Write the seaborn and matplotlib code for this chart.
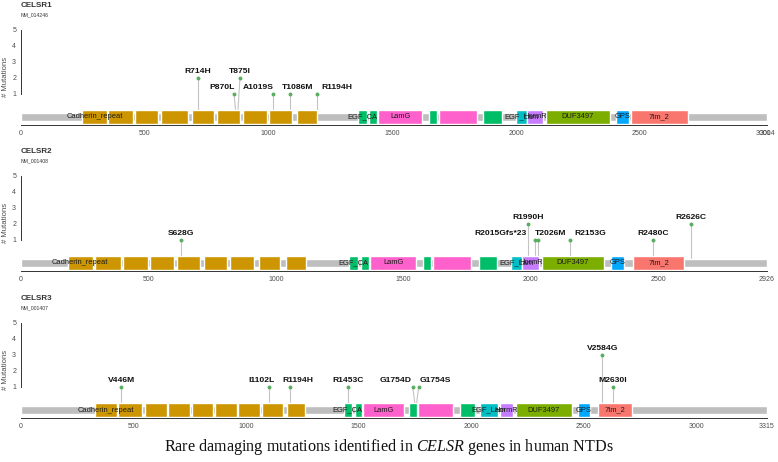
import matplotlib
matplotlib.use("Agg")
import matplotlib.pyplot as plt
import seaborn as sns
import numpy as np

# genes / transcripts / protein lengths
genes = ["CELSR1", "CELSR2", "CELSR3"]
refseq = ["NM_014246", "NM_001408", "NM_001407"]
prot_len = [3014, 2926, 3315]

# mutations per gene
celsr1_mut = ["R714H", "P870L", "T875I", "A1019S", "T1086M", "R1194H"]
celsr1_pos = [714, 870, 875, 1019, 1086, 1194]
celsr1_cnt = [2, 1, 2, 1, 1, 1]

celsr2_mut = ["S628G", "R1990H", "R2015Gfs*23", "T2026M", "R2153G", "R2480C", "R2626C"]
celsr2_pos = [628, 1990, 2015, 2026, 2153, 2480, 2626]
celsr2_cnt = [1, 2, 1, 1, 1, 1, 2]

celsr3_mut = ["V446M", "I1102L", "R1194H", "R1453C", "G1754D", "G1754S", "V2584G", "M2630I"]
celsr3_pos = [446, 1102, 1194, 1453, 1754, 1754, 2584, 2630]
celsr3_cnt = [1, 1, 1, 1, 1, 1, 3, 1]

# pfam domains (same order in all three genes)
dom_names = ["Cadherin_repeat"] * 9 + ["EGF_CA", "EGF_CA", "LamG", "EGF_CA", "LamG",
                                       "EGF_CA", "EGF_Lam", "HormR", "DUF3497", "GPS", "7tm_2"]
celsr1_start = [248, 353, 461, 566, 690, 791, 895, 1000, 1114, 1360, 1406, 1442, 1648, 1690,
                1868, 1999, 2046, 2120, 2404, 2464]
celsr1_end = [346, 451, 555, 676, 780, 884, 992, 1094, 1194, 1396, 1437, 1622, 1682, 1844,
              1942, 2043, 2109, 2379, 2457, 2693]
celsr2_start = [184, 291, 402, 507, 612, 716, 818, 932, 1040, 1286, 1333, 1370, 1575, 1616,
                1795, 1922, 1967, 2043, 2314, 2402]
celsr2_end = [281, 392, 498, 602, 704, 808, 915, 1017, 1119, 1322, 1363, 1550, 1609, 1765,
              1867, 1967, 2033, 2287, 2365, 2602]
celsr3_start = [329, 432, 551, 654, 761, 861, 965, 1071, 1183, 1434, 1483, 1519, 1726, 1763,
                1949, 2038, 2127, 2198, 2473, 2563]
celsr3_end = [428, 539, 647, 750, 854, 958, 1061, 1163, 1264, 1471, 1516, 1701, 1760, 1918,
              2019, 2119, 2186, 2450, 2530, 2717]

dom_colors = {"7tm_2": "#F8766D", "Cadherin_repeat": "#CD9600", "DUF3497": "#7CAE00",
              "EGF_CA": "#00BE67", "EGF_Lam": "#00BFC4", "GPS": "#00A9FF",
              "HormR": "#C77CFF", "LamG": "#FF61CC"}

muts = [(celsr1_mut, celsr1_pos, celsr1_cnt), (celsr2_mut, celsr2_pos, celsr2_cnt),
        (celsr3_mut, celsr3_pos, celsr3_cnt)]
doms = [(celsr1_start, celsr1_end), (celsr2_start, celsr2_end), (celsr3_start, celsr3_end)]

sns.set_theme(style="white")
plt.rcParams['font.family'] = ['Liberation Sans', 'DejaVu Sans']
plt.rcParams['mathtext.fontset'] = 'custom'
plt.rcParams['mathtext.rm'] = 'Liberation Serif'
plt.rcParams['mathtext.it'] = 'Liberation Serif:italic'


def repel_dots(pos, sep, clust=10):
    # mutations closer than `clust` aa get fanned out
    pos = np.asarray(pos, float)
    out = pos.copy()
    order = np.argsort(pos, kind="stable")
    groups, cur = [], [order[0]]
    for a, b in zip(order[:-1], order[1:]):
        if pos[b] - pos[a] <= clust:
            cur.append(b)
        else:
            groups.append(cur)
            cur = [b]
    groups.append(cur)
    for g in groups:
        if len(g) > 1:
            m = pos[g].mean()
            for k, j in enumerate(g):
                out[j] = m + (k - (len(g) - 1) / 2) * sep
    return out


def spread(centers, widths, gap):
    # simple 1d label de-overlap, groups centred on their anchors
    order = np.argsort(centers, kind="stable")
    groups = []
    for i in order:
        groups.append([[i], centers[i] - widths[i] / 2])
        while len(groups) > 1:
            (ia, la), (ib, lb) = groups[-2], groups[-1]
            wa = sum(widths[j] for j in ia) + gap * (len(ia) - 1)
            if la + wa + gap <= lb:
                break
            members = ia + ib
            offs, acc = [], 0
            for j in members:
                offs.append(acc + widths[j] / 2)
                acc += widths[j] + gap
            left = np.mean([centers[j] - o for j, o in zip(members, offs)])
            groups[-2:] = [[members, left]]
    out = np.zeros(len(centers))
    for members, left in groups:
        acc = left
        for j in members:
            out[j] = acc + widths[j] / 2
            acc += widths[j] + gap
    return out


W, H = 778, 462
fig = plt.figure(figsize=(W / 100, H / 100), dpi=100)
renderer = fig.canvas.get_renderer()

ax_left, ax_right = 21, 767
spine_y = [125, 271, 418]
ax_h = 100.8
ylo, yhi = -0.95, 5.35
bar_y = -0.45

for k in range(3):
    L = prot_len[k]
    names, pos, cnt = muts[k]
    starts, ends = doms[k]
    ax = fig.add_axes([ax_left / W, (H - spine_y[k]) / H, (ax_right - ax_left) / W, ax_h / H])
    ax.set_xlim(0, L)
    ax.set_ylim(ylo, yhi)
    px_per_aa = (ax_right - ax_left) / L

    # protein backbone and domains
    ax.barh(bar_y, L, left=0, height=0.56, color="#BEBEBE", zorder=2)
    ax.barh([bar_y] * len(starts), np.array(ends) - np.array(starts), left=starts,
            height=0.82, color=[dom_colors[d] for d in dom_names], zorder=3)
    seen = set()
    for d, s, e in zip(dom_names, starts, ends):
        if d in seen:
            continue
        seen.add(d)
        ax.text((s + e) / 2, bar_y, d, ha="center", va="center", fontsize=5.4,
                color="#1a1a1a", zorder=4)

    # lollipops
    dot_x = repel_dots(pos, 6 / px_per_aa)
    for p, dx, c in zip(pos, dot_x, cnt):
        ax.plot([p, dx], [bar_y, c], color="#C4C4C4", lw=0.8, zorder=1)
    sns.scatterplot(x=dot_x, y=cnt, color="#5AAE61", s=8, linewidth=0, zorder=5, ax=ax)

    # labels, spread per height level
    txts = [ax.text(dx, c + 0.42, n, ha="center", va="center", fontsize=6.1,
                    fontweight="bold", color="#111111", zorder=6)
            for n, dx, c in zip(names, dot_x, cnt)]
    widths = np.array([t.get_window_extent(renderer).width for t in txts]) / px_per_aa
    cnt_arr = np.array(cnt)
    for lev in set(cnt):
        idx = np.where(cnt_arr == lev)[0]
        new_x = spread(dot_x[idx], widths[idx], 8 / px_per_aa)
        for j, x in zip(idx, new_x):
            txts[j].set_x(x)

    # axes styling
    for s in ["top", "right"]:
        ax.spines[s].set_visible(False)
    ax.spines["left"].set_bounds(1, 5)
    for s in ["left", "bottom"]:
        ax.spines[s].set_color("#333333")
        ax.spines[s].set_linewidth(0.7)
    ax.set_yticks([1, 2, 3, 4, 5])
    ax.set_xticks(list(range(0, L, 500)) + [L])
    ax.tick_params(axis="both", labelsize=5, colors="#4D4D4D", length=2, width=0.5, pad=1.5)
    ax.set_ylabel("# Mutations", fontsize=5.6, color="#4D4D4D")
    ax.yaxis.set_label_coords(-0.0165, 0.48)
    ax.grid(False)

    ax.annotate(genes[k], xy=(0, 1), xycoords="axes fraction", xytext=(0, 19 * 0.72),
                textcoords="offset points", ha="left", va="center", fontsize=5.8,
                color="#333333", fontweight="bold")
    ax.annotate(refseq[k], xy=(0, 1), xycoords="axes fraction", xytext=(0, 9 * 0.72),
                textcoords="offset points", ha="left", va="center", fontsize=3.7,
                color="#333333")

fig.text(0.5, 1 - 447 / H, "Rare damaging mutations identified in $\\mathit{CELSR}$ genes in human NTDs",
         ha="center", va="center", fontsize=11.6, family="Liberation Serif", color="#111111")

fig.savefig("out.png", dpi=100)
